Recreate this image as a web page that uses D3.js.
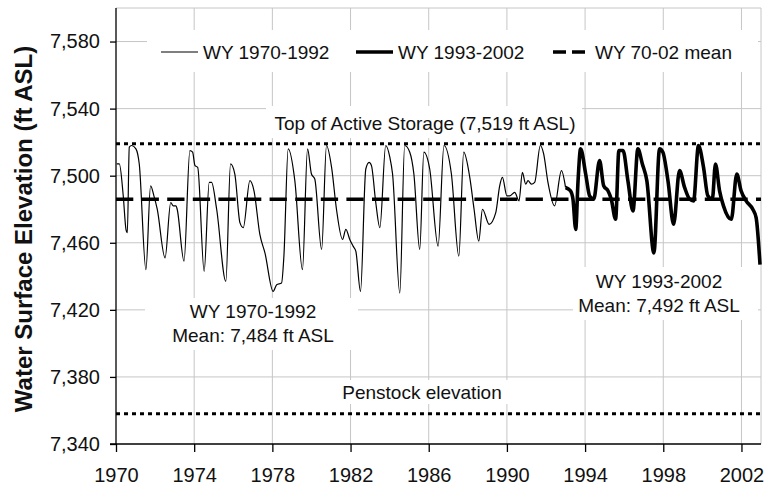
<!DOCTYPE html>
<html>
<head>
<meta charset="utf-8">
<script src="https://cdn.jsdelivr.net/npm/d3@7"></script>
<style>
  html, body { margin: 0; padding: 0; background: #fff; }
  svg { display: block; font-family: "Liberation Sans", Arial, sans-serif; }
</style>
</head>
<body>
<svg id="chart" width="769" height="491"></svg>
<script>
// ---- data ----
// WY 1970-1992 (thin line): decimal year, elevation (ft ASL)
const yearsEarly = [1970.04, 1970.17, 1970.37, 1970.51, 1970.58, 1970.68, 1970.80, 1971.02, 1971.19, 1971.53,
  1971.77, 1971.94, 1972.11, 1972.51, 1972.80, 1972.93, 1973.07, 1973.13, 1973.48, 1973.78,
  1973.92, 1974.04, 1974.18, 1974.51, 1974.77, 1974.89, 1975.15, 1975.62, 1975.86, 1976.08,
  1976.34, 1976.51, 1976.85, 1977.06, 1977.36, 1977.62, 1978.04, 1978.22, 1978.47, 1978.59,
  1978.81, 1979.15, 1979.54, 1979.80, 1980.00, 1980.17, 1980.52, 1980.77, 1981.03, 1981.28,
  1981.59, 1981.76, 1981.96, 1982.13, 1982.27, 1982.51, 1982.78, 1982.95, 1983.07, 1983.29,
  1983.50, 1983.80, 1984.01, 1984.15, 1984.52, 1984.77, 1985.03, 1985.24, 1985.54, 1985.75,
  1986.05, 1986.48, 1986.78, 1987.16, 1987.54, 1987.79, 1988.10, 1988.32, 1988.56, 1988.75,
  1989.09, 1989.43, 1989.63, 1989.77, 1990.00, 1990.14, 1990.40, 1990.62, 1990.79, 1990.96,
  1991.08, 1991.25, 1991.42, 1991.71, 1991.88, 1992.10, 1992.44, 1992.79, 1993.00];
const elevEarly = [7507, 7507, 7488, 7468, 7466, 7517, 7518, 7516, 7507, 7444,
  7494, 7488, 7480, 7451, 7484, 7482, 7482, 7480, 7449, 7515,
  7514, 7506, 7505, 7443, 7496, 7496, 7480, 7437, 7507, 7501,
  7472, 7469, 7497, 7491, 7465, 7454, 7431, 7435, 7436, 7452,
  7516, 7497, 7444, 7516, 7501, 7498, 7456, 7518, 7505, 7480,
  7462, 7468, 7462, 7458, 7455, 7431, 7504, 7508, 7506, 7484,
  7469, 7518, 7511, 7501, 7430, 7518, 7514, 7501, 7456, 7514,
  7504, 7458, 7518, 7501, 7452, 7514, 7499, 7480, 7461, 7480,
  7471, 7478, 7494, 7499, 7488, 7488, 7490, 7485, 7502, 7495,
  7497, 7495, 7496, 7518, 7513, 7496, 7482, 7503, 7493];

// WY 1993-2002 (thick line)
const yearsLate = [1993.00, 1993.25, 1993.38, 1993.52, 1993.64, 1993.77, 1994.03, 1994.23, 1994.44, 1994.74,
  1994.95, 1995.17, 1995.34, 1995.56, 1995.73, 1995.94, 1996.19, 1996.45, 1996.70, 1996.93,
  1997.16, 1997.52, 1997.81, 1997.98, 1998.24, 1998.53, 1998.83, 1999.09, 1999.35, 1999.55,
  1999.80, 2000.06, 2000.28, 2000.51, 2000.67, 2000.88, 2001.08, 2001.48, 2001.76, 2001.98,
  2002.24, 2002.58, 2002.75, 2002.95];
const elevLate = [7493, 7491, 7486, 7468, 7497, 7516, 7501, 7488, 7486, 7509,
  7494, 7491, 7486, 7474, 7515, 7515, 7497, 7479, 7516, 7507,
  7497, 7454, 7516, 7514, 7497, 7471, 7503, 7493, 7486, 7485,
  7518, 7505, 7488, 7486, 7507, 7491, 7482, 7474, 7501, 7491,
  7485, 7480, 7475, 7447];

// reference levels
const meanAll = 7486;       // WY 70-02 mean
const topStorage = 7519;    // Top of Active Storage
const penstock = 7358;      // Penstock elevation

const yTicks = [7340, 7380, 7420, 7460, 7500, 7540, 7580];
const xTicks = [1970, 1974, 1978, 1982, 1986, 1990, 1994, 1998, 2002];
const legendLabels = ['WY 1970-1992', 'WY 1993-2002', 'WY 70-02 mean'];

// ---- layout ----
const svg = d3.select('#chart');
const plot = { left: 116, right: 761, top: 8, bottom: 444 };

const x = d3.scaleLinear().domain([1970, 2003]).range([plot.left, plot.right]);
const y = d3.scaleLinear().domain([7340, 7600]).range([plot.bottom, plot.top]);

const gridColor = '#c6c6c6';

// gridlines
const grid = svg.append('g');
grid.selectAll('line.h')
  .data(yTicks.slice(1).concat([7600]))
  .join('line')
  .attr('x1', plot.left).attr('x2', plot.right)
  .attr('y1', d => y(d)).attr('y2', d => y(d))
  .attr('stroke', gridColor).attr('stroke-width', 1);
grid.selectAll('line.v')
  .data(xTicks.slice(1).concat([2003]))
  .join('line')
  .attr('x1', d => x(d)).attr('x2', d => x(d))
  .attr('y1', plot.top).attr('y2', plot.bottom)
  .attr('stroke', gridColor).attr('stroke-width', 1);

// white label boxes (they hide the gridlines under the text)
const boxes = [
  { x0: 147, x1: 758, y0: 30, y1: 72 },     // legend
  { x0: 266, x1: 582, y0: 106, y1: 138 },   // top of storage
  { x0: 145, x1: 358, y0: 298, y1: 350 },   // WY 1970-1992 note
  { x0: 573, x1: 758, y0: 267, y1: 320 },   // WY 1993-2002 note
  { x0: 336, x1: 508, y0: 380, y1: 404 }    // penstock
];
svg.append('g').selectAll('rect')
  .data(boxes)
  .join('rect')
  .attr('x', d => d.x0).attr('y', d => d.y0)
  .attr('width', d => d.x1 - d.x0).attr('height', d => d.y1 - d.y0)
  .attr('fill', '#fff');

// annotation texts
const notes = [
  { x: 425, y: 123, lines: ['Top of Active Storage (7,519 ft ASL)'] },
  { x: 253, y: 311, lines: ['WY 1970-1992', 'Mean: 7,484 ft ASL'] },
  { x: 659, y: 281, lines: ['WY 1993-2002', 'Mean: 7,492 ft ASL'] },
  { x: 422, y: 392, lines: ['Penstock elevation'] }
];
notes.forEach(n => {
  const t = svg.append('text')
    .attr('text-anchor', 'middle')
    .attr('font-size', 19)
    .attr('fill', '#111');
  n.lines.forEach((s, i) => {
    t.append('tspan')
      .attr('x', n.x)
      .attr('y', n.y + i * 24.5)
      .attr('dy', '0.35em')
      .text(s);
  });
});

// reference lines
const refs = [
  { v: topStorage, dash: '4,4', w: 3 },
  { v: penstock, dash: '4,4', w: 3 },
  { v: meanAll, dash: '17.3,8.3', w: 3.5 }
];
svg.append('g').selectAll('line')
  .data(refs)
  .join('line')
  .attr('x1', plot.left).attr('x2', plot.right)
  .attr('y1', d => y(d.v)).attr('y2', d => y(d.v))
  .attr('stroke', '#000')
  .attr('stroke-width', d => d.w)
  .attr('stroke-dasharray', d => d.dash);

// data lines
const line = d3.line()
  .x(d => x(d[0]))
  .y(d => y(d[1]))
  .curve(d3.curveMonotoneX);

svg.append('path')
  .datum(d3.zip(yearsEarly, elevEarly))
  .attr('d', line)
  .attr('fill', 'none')
  .attr('stroke', '#000')
  .attr('stroke-width', 1.2);

svg.append('path')
  .datum(d3.zip(yearsLate, elevLate))
  .attr('d', line)
  .attr('fill', 'none')
  .attr('stroke', '#000')
  .attr('stroke-width', 3.6)
  .attr('stroke-linejoin', 'round');

// axes
const yAxis = d3.axisLeft(y)
  .tickValues(yTicks)
  .tickSize(6)
  .tickPadding(10)
  .tickFormat(d3.format(','));
const xAxis = d3.axisBottom(x)
  .tickValues(xTicks)
  .tickSize(8)
  .tickPadding(16)
  .tickFormat(d3.format('d'));

const gy = svg.append('g')
  .attr('transform', `translate(${plot.left},0)`)
  .call(yAxis);
const gx = svg.append('g')
  .attr('transform', `translate(0,${plot.bottom})`)
  .call(xAxis);

[gx, gy].forEach(g => {
  g.select('.domain').attr('stroke', '#000').attr('stroke-width', 1.3);
  g.selectAll('.tick line').attr('stroke', '#000').attr('stroke-width', 1.3);
  g.selectAll('.tick text')
    .attr('font-size', 20)
    .attr('font-family', '"Liberation Sans", Arial, sans-serif')
    .attr('fill', '#111');
});
gy.select('.domain').attr('d', `M-6,${plot.bottom}H0V${plot.top}`);
gx.select('.domain').attr('d', `M${plot.left},0H${plot.right}`);

// y axis title
svg.append('text')
  .attr('transform', `translate(32,${(plot.top + plot.bottom) / 2 + 3}) rotate(-90)`)
  .attr('text-anchor', 'middle')
  .attr('font-size', 24)
  .attr('font-weight', 'bold')
  .attr('fill', '#111')
  .text('Water Surface Elevation (ft ASL)');

// legend
const legendItems = [
  { x0: 161, w: 1.2, dash: null },
  { x0: 356, w: 3.6, dash: null },
  { x0: 553, w: 3.5, dash: '13,6' }
];
const lg = svg.append('g');
legendItems.forEach((d, i) => {
  lg.append('line')
    .attr('x1', d.x0).attr('x2', d.x0 + 37)
    .attr('y1', 52).attr('y2', 52)
    .attr('stroke', '#000')
    .attr('stroke-width', d.w)
    .attr('stroke-dasharray', d.dash);
  lg.append('text')
    .attr('x', d.x0 + 42)
    .attr('y', 52)
    .attr('dy', '0.35em')
    .attr('font-size', 19)
    .attr('fill', '#111')
    .text(legendLabels[i]);
});
</script>
</body>
</html>
